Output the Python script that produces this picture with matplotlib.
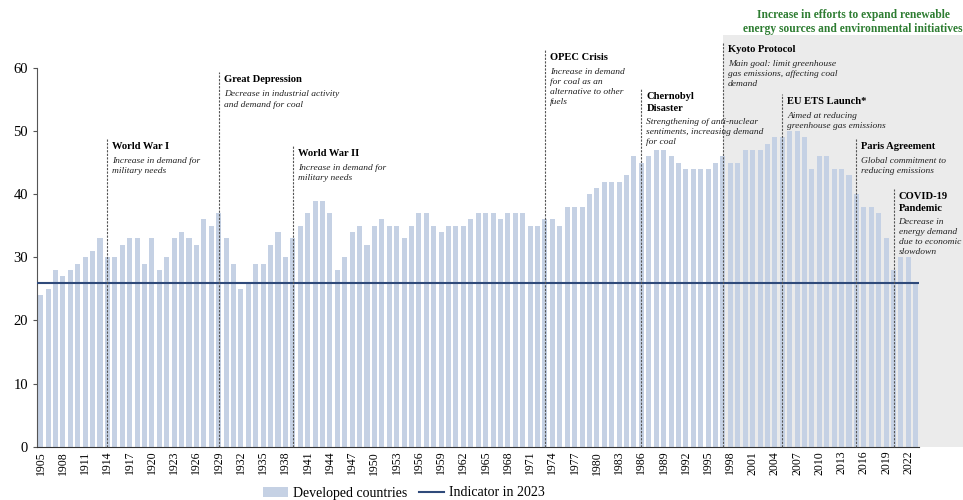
import numpy as np
import matplotlib
matplotlib.use('Agg')
from matplotlib import pyplot as plt
from matplotlib.patches import Rectangle

plt.rcParams['font.family'] = ['Liberation Serif', 'DejaVu Serif']

# --------------------------------------
# data
# --------------------------------------
years = list(range(1905, 2024))
values = [24, 25, 28, 27, 28, 29, 30, 31, 33, 30,
          30, 32, 33, 33, 29, 33, 28, 30, 33, 34,
          33, 32, 36, 35, 37, 33, 29, 25, 26, 29,
          29, 32, 34, 30, 33, 35, 37, 39, 39, 37,
          28, 30, 34, 35, 32, 35, 36, 35, 35, 33,
          35, 37, 37, 35, 34, 35, 35, 35, 36, 37,
          37, 37, 36, 37, 37, 37, 35, 35, 36, 36,
          35, 38, 38, 38, 40, 41, 42, 42, 42, 43,
          46, 45, 46, 47, 47, 46, 45, 44, 44, 44,
          44, 45, 46, 45, 45, 47, 47, 47, 48, 49,
          49, 50, 50, 49, 44, 46, 46, 44, 44, 43,
          40, 38, 38, 37, 33, 28, 30, 30, 26]
indicator_2023 = 26

event_years = [1914, 1929, 1939, 1973, 1986, 1997, 2005, 2015, 2020]
event_titles = ['World War I', 'Great Depression', 'World War II', 'OPEC Crisis',
                'Chernobyl\nDisaster', 'Kyoto Protocol', 'EU ETS Launch*',
                'Paris Agreement', 'COVID-19\nPandemic']
event_texts = ['Increase in demand for\nmilitary needs',
               'Decrease in industrial activity\nand demand for coal',
               'Increase in demand for\nmilitary needs',
               'Increase in demand\nfor coal as an\nalternative to other\nfuels',
               'Strengthening of anti-nuclear\nsentiments, increasing demand\nfor coal',
               'Main goal: limit greenhouse\ngas emissions, affecting coal\ndemand',
               'Aimed at reducing\ngreenhouse gas emissions',
               'Global commitment to\nreducing emissions',
               'Decrease in\nenergy demand\ndue to economic\nslowdown']
event_tops = [48.8, 59.3, 47.6, 62.9, 56.7, 64.1, 55.9, 48.8, 40.9]

# --------------------------------------
# chart
# --------------------------------------
fig = plt.figure(figsize=(9.63, 5.0), dpi=100)
ax = fig.add_axes([0.0384, 0.1066, 0.9164, 0.7574])

# grey zone: renewable efforts (from Kyoto on)
ax.add_patch(Rectangle((1997, 0), 40, 65.3, facecolor='#ebebeb', edgecolor='none',
                       zorder=0, clip_on=False))

bars = ax.bar(years, values, width=0.68, color='#c5d1e4', zorder=2)
line = ax.axhline(indicator_2023, color='#2f4a7a', lw=1.5, zorder=3)

ax.set_xlim(1904.5, 2023.5)
ax.set_ylim(0, 60)
ax.set_yticks(range(0, 61, 10))
ax.set_xticks(years[::3])
ax.set_xticklabels([str(y) for y in years[::3]], rotation=90, fontsize=8.5)
ax.tick_params(axis='x', length=0, pad=3)
ax.tick_params(axis='y', labelsize=10.5, length=3, color='#555555')
for s in ['top', 'right']:
    ax.spines[s].set_visible(False)
ax.spines['left'].set_color('#555555')
ax.spines['bottom'].set_color('#333333')
ax.patch.set_alpha(0)

# events
for yr, ttl, txt, top in zip(event_years, event_titles, event_texts, event_tops):
    ax.plot([yr, yr], [0, top], color='#555555', lw=0.8, ls=(0, (2, 1.2)),
            zorder=4, clip_on=False)
    n = len(ttl.splitlines())
    ax.annotate(ttl, (yr, top), xytext=(5, -3), textcoords='offset pixels',
                ha='left', va='top', fontsize=7.6, weight='bold', linespacing=1.5,
                annotation_clip=False)
    ax.annotate(txt, (yr, top), xytext=(5, -18 - 11 * (n - 1)), textcoords='offset pixels',
                ha='left', va='top', fontsize=6.8, style='italic', linespacing=1.35,
                color='#222222', annotation_clip=False)

fig.text(853 / 963, 1 - 22 / 500,
         'Increase in efforts to expand renewable\nenergy sources and environmental initiatives',
         ha='center', va='center', fontsize=8.3, weight='bold', color='#2e7d32', linespacing=1.3)

fig.legend([bars, line], ['Developed countries', 'Indicator in 2023'],
           loc='center', bbox_to_anchor=(404 / 963, 1 - 493 / 500), ncol=2, frameon=False,
           fontsize=10, handlelength=1.8, columnspacing=0.8, handletextpad=0.4)

plt.savefig('out.png', dpi=100)
